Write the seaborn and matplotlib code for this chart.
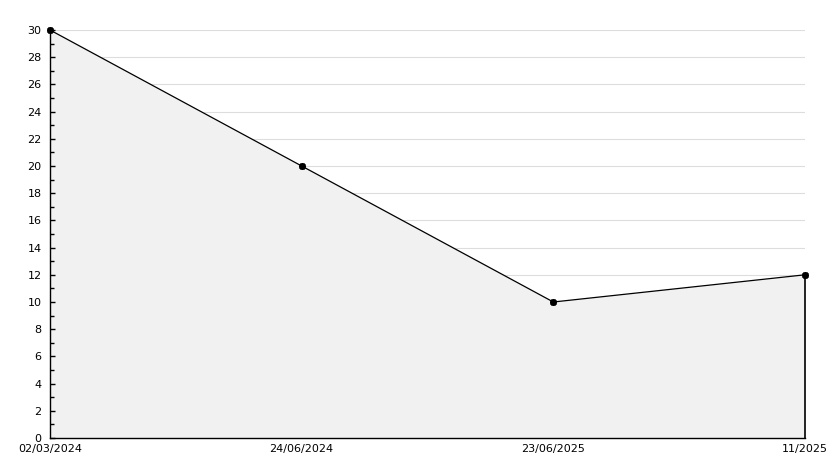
import matplotlib
matplotlib.use("Agg")
import matplotlib.pyplot as plt
import seaborn as sns
import pandas as pd
import numpy as np
from matplotlib.ticker import MultipleLocator

dates = ["02/03/2024", "24/06/2024", "23/06/2025", "11/2025"]
values = [30, 20, 10, 12]
y_ticks = list(range(0, 31, 2))

sns.set_style("white")
plt.rcParams['font.family'] = ['DejaVu Sans']

df = pd.DataFrame({"pos": np.arange(len(dates)), "value": values})

fig = plt.figure(figsize=(8.34, 4.68), dpi=100)
ax = fig.add_axes([50/834, 30/468, 755/834, 408/468])

# gridlines below the area fill
ax.hlines(y_ticks[1:], 0, len(dates) - 1, color="#dddddd", linewidth=0.8, zorder=0.5)
ax.fill_between(df["pos"], df["value"], 0, color="#f1f1f1", zorder=1, linewidth=0)
ax.vlines(df["pos"].iloc[-1], 0, df["value"].iloc[-1], color="black", linewidth=1.2,
          zorder=2, clip_on=False)
sns.lineplot(data=df, x="pos", y="value", ax=ax, color="black", linewidth=0.9,
             marker=(8, 2, 0), markersize=5, markeredgecolor="black",
             markeredgewidth=1.3, zorder=3, clip_on=False)

ax.set_xlim(0, len(dates) - 1)
ax.set_ylim(0, 30)
ax.set_yticks(y_ticks)
ax.yaxis.set_minor_locator(MultipleLocator(1))
ax.set_xticks(df["pos"])
ax.set_xticklabels(dates)
ax.grid(False)
ax.set_axisbelow(False)

for s in ["top", "right"]:
    ax.spines[s].set_visible(False)
for s in ["left", "bottom"]:
    ax.spines[s].set_color("black")
    ax.spines[s].set_linewidth(1)

ax.tick_params(axis="y", which="major", direction="in", length=3.6, width=1, color="black",
               labelsize=8, pad=6, left=True, labelcolor="black")
ax.tick_params(axis="y", which="minor", direction="in", length=2.9, width=1, color="black", left=True)
ax.tick_params(axis="x", length=0, labelsize=8, pad=4, labelcolor="black")
ax.set_xlabel("")
ax.set_ylabel("")

fig.savefig("out.png", dpi=100)
